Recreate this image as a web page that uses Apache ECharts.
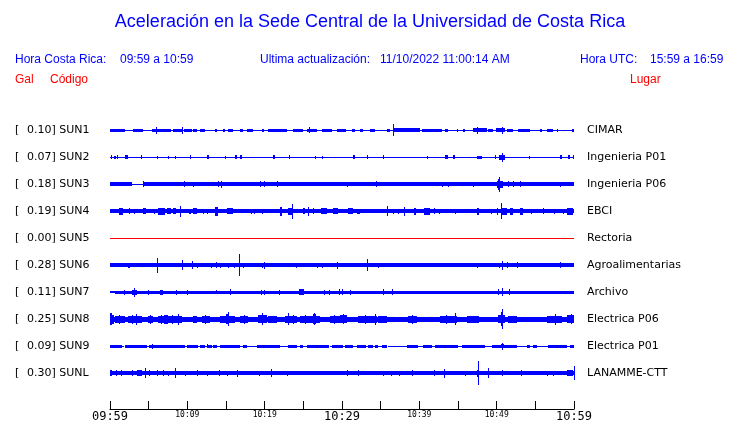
<!DOCTYPE html>
<html><head><meta charset="utf-8">
<script src="https://cdn.jsdelivr.net/npm/echarts@6/dist/echarts.min.js"></script>
<style>html,body{margin:0;padding:0;background:#fff}#c{width:740px;height:423px}</style>
</head><body><div id="c"></div>
<script>
// ---- data ----
const stations = ['SUN1','SUN2','SUN3','SUN4','SUN5','SUN6','SUN7','SUN8','SUN9','SUNL'];
const places = ['CIMAR','Ingenieria P01','Ingenieria P06','EBCI','Rectoria','Agroalimentarias','Archivo','Electrica P06','Electrica P01','LANAMME-CTT'];
const peaks = ['0.10','0.07','0.18','0.19','0.00','0.28','0.11','0.25','0.09','0.30'];
const timeLabels = ['09:59','','10:09','','10:19','','10:29','','10:39','','10:49','','10:59'];
const bigLabels = ['09:59','10:29','10:59'];

// envelopes: [startMinute, endMinute, halfAmplitude] (minutes after 09:59)
const sun1Level = [[0,60,0.7]];
const sun1Bursts = [[0,1.9,1.5],[3.0,4.3,1.5],[5.4,7.8,1.5],[5.9,5.9,3.5],[8.1,9.3,1.5],[9.3,9.3,3.5],[9.6,10.6,1.5],[10.7,11.2,1.5],[11.6,12.3,1.5],[13.6,13.8,1.5],[14.6,14.9,1.5],[15.3,15.9,1.5],[16.8,17.2,1.5],[17.7,18.5,1.5],[19.7,20.0,1.5],[20.4,22.9,1.5],[23.7,25.0,1.5],[25.5,26.8,1.5],[25.7,25.7,3],[27.4,28.7,1.5],[29.4,30.6,1.5],[31.3,31.7,1.5],[32.3,32.7,1.5],[33.6,34.3,1.5],[35.8,36.2,1.5],[36.6,40.1,1.8],[36.6,36.6,6],[40.3,42.9,1.5],[43.3,43.7,1.5],[44.9,45.0,1.5],[45.6,45.9,1.5],[46.9,48.7,1.8],[47.5,47.5,3.5],[48.9,49.5,1.5],[49.9,51.1,1.8],[50.7,50.7,3.5],[51.3,52.1,1.5],[52.8,54.4,1.5],[55.6,55.9,1.5],[56.5,57.3,1.5],[57.8,57.9,1.5],[59.7,59.9,1.5]];

const sun2Level = [[0,60,0.7]];
const sun2Bursts = [[0.1,0.1,2],[0.5,0.8,1.5],[0.9,1.0,2],[1.9,2.3,2],[4.0,4.0,2],[6.1,6.1,1.5],[7.5,7.5,1.5],[8.4,8.4,1.5],[10.3,10.3,2],[12.5,12.8,2],[14.9,14.9,1.5],[16.2,16.4,2],[16.8,17.1,2],[21.1,21.3,2],[23.1,23.1,2],[26.5,26.5,1.5],[27.4,27.4,1.5],[31.4,31.7,2],[33.2,33.2,2],[35.3,35.3,2],[41.0,41.0,1.5],[43.3,43.7,2],[44.3,44.6,2],[47.5,48.1,1.5],[49.8,49.8,2],[50.3,51.1,2.5],[50.7,50.7,4.5],[54.2,54.2,1.5],[58.2,58.4,2],[59.2,59.4,2],[59.9,59.9,2]];

const sun3Level = [[0,2.8,1.9],[2.8,4.3,0.7],[4.3,60,1.9]];
const sun3Bursts = [[4.3,4.3,3],[9.6,9.6,2.8],[10.7,10.7,2.5],[14.0,14.0,3],[14.4,14.4,3.5],[19.4,19.4,3],[19.9,19.9,3],[21.6,21.6,3],[30.6,30.6,2.5],[34.4,34.4,3],[42.9,42.9,2.5],[43.7,43.7,2.5],[46.9,46.9,2.5],[50.0,50.8,3.5],[50.2,50.5,5.5],[50.3,50.3,7.5],[51.5,51.5,3],[52.1,52.1,3],[53.0,53.0,3],[58.2,58.2,2.5]];

const sun4Level = [[0,60,1.8]];
const sun4Bursts = [[1.2,1.7,3.5],[2.5,2.5,3],[3.1,3.1,2.5],[4.3,4.7,3],[5.7,5.7,2.5],[6.2,7.1,3.5],[7.4,7.9,3],[8.1,8.5,3],[9.1,9.1,5.5],[10.2,10.5,2.5],[10.7,11.2,3],[12.0,12.0,2.5],[12.5,12.5,2.5],[13.6,14.0,4.5],[15.1,15.9,3],[18.2,18.2,2.5],[18.6,18.6,2.5],[19.7,19.7,2.5],[22.0,22.2,4.5],[23.0,23.7,3.5],[23.5,23.5,7.5],[25.0,25.2,3],[25.6,25.6,4.5],[26.2,26.2,3],[27.3,28.1,3],[28.8,29.5,3],[30.8,31.4,3],[31.9,32.3,2.5],[35.8,35.8,5],[36.6,36.6,2.5],[37.2,37.2,2.5],[38.0,38.0,4.5],[39.3,39.6,3.5],[40.6,41.4,3.5],[41.9,41.9,3],[42.5,42.5,2.5],[44.6,44.6,2.5],[47.5,47.8,3.5],[49.3,49.3,2.5],[50.0,50.0,3.5],[50.6,50.6,8],[50.7,51.3,3.5],[51.7,52.1,3.5],[53.0,53.4,3.5],[54.4,54.4,2.5],[56.0,56.0,3],[57.4,57.4,2.5],[58.6,58.6,2.5],[59.1,59.9,3.5]];

const sun5Level = [[0,60,0]];
const sun5Bursts = [];

const sun6Level = [[0,60,1.8]];
const sun6Bursts = [[2.3,2.6,2.5],[6.1,6.1,7.5],[7.8,7.8,2.2],[9.3,9.3,5],[10.6,10.6,4],[11.2,11.2,2.5],[13.1,13.1,2.5],[13.7,13.7,3],[14.2,14.2,2.5],[15.3,15.3,2.5],[16.0,16.0,2.5],[16.7,16.7,11],[17.2,17.2,2.5],[19.7,19.7,2.5],[19.9,19.9,3.5],[24.0,24.0,2.5],[26.8,26.8,2.5],[27.4,27.4,2.5],[29.4,29.4,3.5],[33.2,33.2,6],[34.7,34.7,2.5],[38.4,38.4,2],[41.8,41.8,2],[47.5,47.5,2.5],[50.3,50.3,2.5],[50.7,50.7,4.5],[51.3,51.3,3],[52.6,52.6,3],[54.4,54.4,2],[58.2,58.2,3],[59.9,59.9,2]];

const sun7Level = [[0,0.7,1.0],[0.7,60,1.6]];
const sun7Bursts = [[1.8,1.8,2.5],[2.8,3.5,2.5],[3.1,3.1,4.5],[4.9,4.9,2.5],[6.5,6.9,2.5],[8.5,8.5,2.5],[10.0,10.0,2.5],[13.7,13.7,2],[15.5,15.5,3],[19.5,19.5,2.5],[19.9,19.9,2.5],[21.9,21.9,2.5],[24.4,25.0,2.8],[27.7,27.7,2.5],[28.3,28.3,2.5],[29.6,29.6,3],[30.0,30.0,3],[31.0,31.0,2.5],[35.3,35.3,3],[36.5,36.5,3],[50.2,50.2,3],[50.7,50.7,4],[51.6,51.6,3]];

const sun8Level = [[0,60,2.5]];
const sun8Bursts = [[0,0.3,6],[0.3,0.6,4.5],[0.6,1.9,3.5],[1.2,1.2,4.5],[2.3,4.1,3.5],[3.3,3.3,5.5],[2.8,2.9,4.5],[4.9,5.6,3.5],[5.2,5.2,4.5],[6.2,9.3,3.5],[6.6,6.7,4.5],[7.0,7.5,4.5],[8.0,8.1,4.5],[8.8,8.8,5.5],[10.7,11.2,3.5],[11.9,12.9,3.5],[12.3,12.3,4.5],[14.2,16.2,3.5],[15.0,15.4,5],[15.2,15.2,7],[16.8,17.8,3.5],[17.3,17.3,4.5],[19.1,20.3,4],[19.7,19.7,6],[20.4,21.6,3.5],[22.6,24.2,3.5],[23.0,23.0,6],[23.6,23.7,4.5],[24.6,27.2,3.5],[25.2,25.3,4.5],[26.2,26.6,5],[26.4,26.4,6],[28.4,29.7,3.5],[29.0,29.0,4.5],[29.7,30.6,4],[30.1,30.1,5],[32.1,34.5,3.5],[33.0,33.1,4.5],[34.3,34.3,5.5],[34.7,35.8,3.5],[38.5,39.7,3.5],[39.1,39.1,4.5],[42.7,44.9,3.5],[43.5,43.6,4.5],[44.6,44.6,6],[46.2,47.8,3.5],[50.2,51.1,4],[50.5,50.5,7],[50.7,50.7,10],[51.5,52.6,3.5],[56.5,58.4,3.5],[57.5,57.5,5.5],[59.1,60,4],[59.6,59.6,5]];

const sun9Level = [[0,1.6,1.3],[1.6,1.9,0.6],[1.9,4.8,1.3],[4.8,5.0,0.6],[5.0,9.6,1.3],[9.6,10.0,0.6],[10.0,11.4,1.3],[11.4,11.6,0.6],[11.6,12.3,1.3],[12.3,12.7,0.6],[12.7,13.2,1.3],[13.2,13.3,0.6],[13.3,13.8,1.3],[13.8,14.2,0.6],[14.2,16.8,1.3],[16.8,17.2,0.6],[17.2,17.7,1.3],[17.7,19.0,0.6],[19.0,22.0,1.3],[22.0,23.0,0.6],[23.0,24.2,1.3],[24.2,24.6,0.6],[24.6,25.0,1.3],[25.0,25.5,0.6],[25.5,28.4,1.3],[28.4,28.7,0.6],[28.7,30.1,1.3],[30.1,30.4,0.6],[30.4,31.4,1.3],[31.4,31.9,0.6],[31.9,33.0,1.3],[33.0,33.4,0.6],[33.4,34.0,1.3],[34.0,34.3,0.6],[34.3,34.7,1.3],[34.7,35.2,0.6],[35.2,35.9,1.3],[35.9,38.4,0.6],[38.4,39.8,1.3],[39.8,40.5,0.6],[40.5,41.6,1.3],[41.6,42.0,0.6],[42.0,45.0,1.3],[45.0,45.5,0.6],[45.5,48.5,1.3],[48.5,49.4,0.6],[49.4,52.6,1.3],[52.6,53.9,0.6],[53.9,54.3,1.3],[54.3,54.7,0.6],[54.7,55.2,1.3],[55.2,56.6,0.6],[56.6,59.1,1.3],[59.1,59.5,0.6],[59.5,60,1.3]];
const sun9Bursts = [[5.4,5.4,2.5],[12.5,12.5,2],[50.5,50.9,2],[50.7,50.7,3.5]];

const sunLLevel = [[0,60,2.0]];
const sunLBursts = [[0,0.3,3],[0.8,0.8,3],[1.4,1.4,3],[2.8,2.8,3],[3.5,4.1,3],[4.5,4.5,5],[5.0,5.0,3],[6.1,6.1,3],[6.9,6.9,3],[7.5,7.5,2.5],[8.4,8.4,5],[9.7,9.7,2.5],[11.2,11.2,3],[12.5,12.5,2.5],[14.1,14.1,3],[15.1,15.1,2.5],[16.4,16.4,3.5],[19.3,19.3,2.5],[20.8,20.8,4],[22.9,22.9,2.5],[30.6,30.6,3],[32.1,32.1,3],[35.3,35.3,2.5],[36.3,36.3,2.5],[37.4,37.4,2.5],[39.0,39.0,3],[41.9,41.9,3],[43.2,43.2,4.5],[45.9,45.9,2.5],[47.5,47.8,3.5],[47.6,47.6,12],[48.9,48.9,5],[50.7,50.7,3],[53.1,53.1,3],[56.5,56.5,2.5],[57.3,57.3,2.5],[59.1,59.9,3],[60,60,7]];

const levels = [sun1Level,sun2Level,sun3Level,sun4Level,sun5Level,sun6Level,sun7Level,sun8Level,sun9Level,sunLLevel];
const bursts = [sun1Bursts,sun2Bursts,sun3Bursts,sun4Bursts,sun5Bursts,sun6Bursts,sun7Bursts,sun8Bursts,sun9Bursts,sunLBursts];

// ---- layout ----
const GRID_TOP = 117, ROW = 27, FIRST = 13;
const BLUE = '#0000ff', RED = '#ff0000';

function renderTrace(center, color) {
  return function (params, api) {
    const t0 = api.value(0), t1 = api.value(1), a = api.value(2);
    const p0 = api.coord([t0, center - a]);
    const p1 = api.coord([t1, center + a]);
    const x = Math.round(Math.min(p0[0], p1[0]));
    const w = Math.max(1, Math.round(Math.abs(p1[0] - p0[0])));
    const y0 = Math.min(p0[1], p1[1]), y1 = Math.max(p0[1], p1[1]);
    const h = Math.max(1, Math.round(y1 - y0));
    const y = Math.round((y0 + y1) / 2 - h / 2);
    return { type: 'rect', shape: { x: x, y: y, width: w, height: h }, style: { fill: color } };
  };
}

const series = stations.map(function (s, i) {
  const color = s === 'SUN5' ? RED : BLUE;
  return {
    type: 'custom', name: s, silent: true, animation: false,
    renderItem: renderTrace(FIRST + ROW * i, color),
    encode: { x: [0, 1], y: 2 },
    data: levels[i].concat(bursts[i])
  };
});

const graphic = [];
function txt(text, x, y, font, fill, align) {
  graphic.push({ type: 'text', x: x, y: y, silent: true,
    style: { text: text, font: font, fill: fill, align: align || 'left', verticalAlign: 'middle' } });
}
const HF = '12px "Liberation Sans"';
txt('Aceleración en la Sede Central de la Universidad de Costa Rica', 370, 22, '18px "Liberation Sans"', BLUE, 'center');
txt('Hora Costa Rica:', 15, 60, HF, BLUE);
txt('09:59 a 10:59', 120, 60, HF, BLUE);
txt('Ultima actualización:', 260, 60, HF, BLUE);
txt('11/10/2022 11:00:14 AM', 380, 60, HF, BLUE);
txt('Hora UTC:', 580, 60, HF, BLUE);
txt('15:59 a 16:59', 650, 60, HF, BLUE);
txt('Gal', 15, 80, HF, RED);
txt('Código', 50, 80, HF, RED);
txt('Lugar', 630, 80, HF, RED);
const LF = '11px "DejaVu Sans"';
stations.forEach(function (s, i) {
  const y = GRID_TOP + FIRST + ROW * i;
  txt('[', 15, y, LF, '#000');
  txt(peaks[i] + '] ' + s, 27, y, LF, '#000');
  txt(places[i], 587, y, LF, '#000');
});

const chart = echarts.init(document.getElementById('c'), null, { renderer: 'canvas' });
chart.setOption({
  animation: false,
  backgroundColor: '#fff',
  grid: { left: 110, right: 166, top: GRID_TOP, bottom: 14 },
  xAxis: {
    type: 'value', min: 0, max: 60, interval: 5, position: 'bottom',
    axisLine: { show: true, onZero: false, lineStyle: { color: '#000', width: 1 } },
    axisTick: { show: true, inside: true, length: 8, lineStyle: { color: '#000', width: 1 } },
    splitLine: { show: false },
    axisLabel: {
      margin: 2, showMinLabel: true, showMaxLabel: true,
      formatter: function (v) {
        const s = timeLabels[Math.round(v / 5)];
        if (!s) return '';
        return bigLabels.indexOf(s) >= 0 ? '{b|' + s + '}' : '{s|' + s + '}';
      },
      rich: {
        b: { fontFamily: 'DejaVu Sans Mono', fontSize: 12, lineHeight: 12, color: '#000' },
        s: { fontFamily: 'DejaVu Sans Mono', fontSize: 8, lineHeight: 8, color: '#000' }
      }
    }
  },
  yAxis: { type: 'value', min: 0, max: 292, inverse: true, show: false },
  graphic: graphic,
  series: series
});
</script>
</body></html>
